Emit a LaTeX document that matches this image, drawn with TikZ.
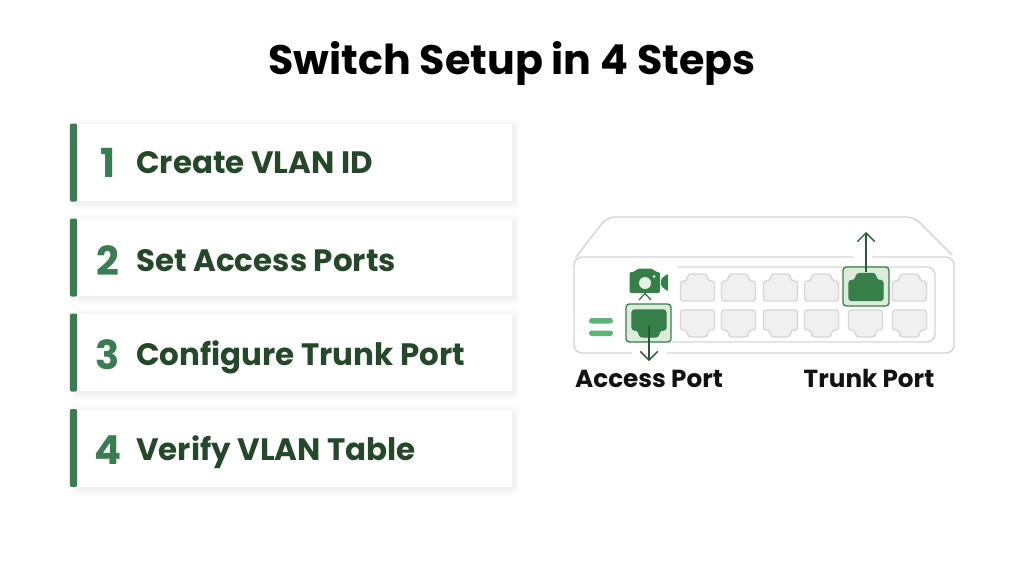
\documentclass[tikz,border=0pt]{standalone}
\usepackage{fontspec}
\setmainfont{Poppins}
\usepackage{xcolor}
\usetikzlibrary{arrows.meta}

\definecolor{darkgreen}{HTML}{26482A}
\definecolor{midgreen}{HTML}{3A7D52}
\definecolor{portgreen}{HTML}{367F48}
\definecolor{palegreen}{HTML}{DCEBDC}
\definecolor{lightgreen}{HTML}{5BB574}
\definecolor{switchgrey}{HTML}{D6D6D6}
\definecolor{portgrey}{HTML}{F0F0F0}

\begin{document}
\begin{tikzpicture}[x=0.75pt,y=-0.75pt]

    \tikzstyle{stepcard}=[fill=white,minimum width=435*0.75pt,minimum height=77*0.75pt,inner sep=0pt]
    \tikzstyle{stepbar}=[fill=midgreen,rounded corners=1.5pt,minimum width=5.5pt,minimum height=78*0.75pt,inner sep=0pt]
    \tikzstyle{stepnum}=[text=midgreen,font=\fontsize{30}{32}\selectfont\bfseries,anchor=base,inner sep=0pt]
    \tikzstyle{steptext}=[text=darkgreen,font=\fontsize{23.2}{26}\selectfont\bfseries,anchor=base west,inner sep=0pt]
    \tikzstyle{portlabel}=[text=black!93,font=\fontsize{18.5}{21}\selectfont\bfseries,anchor=base,inner sep=0pt]
    \tikzstyle{greyport}=[draw=switchgrey,fill=portgrey,line width=1pt,rounded corners=2pt]
    \tikzstyle{greenport}=[draw=portgreen,fill=portgreen,line width=1pt,rounded corners=2pt]
    \tikzstyle{portbox}=[draw=portgreen,fill=palegreen,line width=1pt,rounded corners=2.5pt,inner sep=0pt]
    \tikzstyle{outline}=[draw=switchgrey,line width=1.1pt,rounded corners=6pt]
    \tikzstyle{linkarrow}=[draw=darkgreen!70!portgreen,line width=1pt,-{Straight Barb[length=6.5pt,width=13pt]}]
    \tikzstyle{softshadow}=[fill=black,opacity=0.008,rounded corners=4pt]

    %% one port, notch on top, centred on the origin
    \newcommand{\portpath}{(-17,13.5) -- (-17,-6.5) -- (-11,-6.5) -- (-9,-13.5) -- (9,-13.5) -- (11,-6.5) -- (17,-6.5) -- (17,13.5) -- cycle}

    \useasboundingbox (0,0) rectangle (1024,572);
    \fill[white] (0,0) rectangle (1024,572);

    \node[text=black,font=\fontsize{30.9}{34}\selectfont\bfseries] (title) at (512,63) {Switch Setup in 4 Steps};

    %% Draw step cards
    \foreach \n/\ypos/\base/\txt in {1/162.5/173/Create VLAN ID,2/257.5/271/Set Access Ports,3/352.5/365/Configure Trunk Port,4/448/460/Verify VLAN Table}
    {
        \foreach \grow in {1,2,...,7}
            \fill[softshadow] (77-\grow,\ypos-38.5-\grow+2) rectangle (512+\grow+1,\ypos+38.5+\grow+2);
        \node[stepcard] (card\n) at (294.5,\ypos) {};
        \node[stepbar] (bar\n) at (73.5,\ypos) {};
        \node[stepnum] (num\n) at (108,\base+4.5) {\n};
        \node[steptext] (text\n) at (136,\base) {\txt};
    }

    %% Draw switch outline
    \draw[outline] (853,257) -- (574,257) -- (574,353) -- (632,353);
    \draw[outline] (667,353) -- (954,353) -- (954,257) -- (872,257);
    \draw[outline] (576,257) -- (607,217) -- (914,217) -- (952,255);
    \draw[outline] (677,267) -- (935,267) -- (935,342) -- (672,342);

    %% Draw grey ports
    \foreach \xpos in {697.5,738.5,780.5,821.5,909.5}
        \draw[greyport,shift={(\xpos,287.5)}] \portpath;
    \foreach \xpos in {697.5,738.5,780.5,821.5,865.5,909.5}
        \draw[greyport,shift={(\xpos,323.5)},yscale=-1] \portpath;

    %% Draw access and trunk ports
    \node[portbox,minimum width=45*0.75pt,minimum height=38*0.75pt] (accessbox) at (648.5,323) {};
    \node[portbox,minimum width=46*0.75pt,minimum height=39*0.75pt] (trunkbox) at (866,286.5) {};
    \draw[greenport,shift={(649,323.5)},yscale=-1] \portpath;
    \draw[greenport,shift={(866,287)}] \portpath;
    \coordinate (accessend) at (649,361);
    \coordinate (trunkend) at (866,232);
    \coordinate (accessport) at (649,326);
    \coordinate (trunkport) at (866,272);
    \draw[linkarrow] (accessport) -- (accessend);
    \draw[linkarrow] (trunkport) -- (trunkend);

    %% Draw camera
    \fill[portgreen,rounded corners=1.5pt] (629.5,272) -- (635,272) -- (637,268.5) -- (653,268.5) -- (655,272) -- (660,272) -- (660,293) -- (629.5,293) -- cycle;
    \fill[portgreen,rounded corners=1pt] (661,279) -- (668,273.5) -- (668,291.5) -- (661,286) -- cycle;
    \fill[palegreen!70!white] (645,283) circle (6);
    \fill[palegreen] (654,276.5) circle (1.5);
    \draw[portgreen,line width=1pt] (639,300) -- (645,293.5) -- (651,300);

    %% Draw equals sign
    \fill[lightgreen,rounded corners=2pt] (589,318) rectangle (613,323.5);
    \fill[lightgreen,rounded corners=2pt] (589,330.5) rectangle (613,336);

    \node[portlabel] (accesslabel) at (649,387) {Access Port};
    \node[portlabel] (trunklabel) at (869,387) {Trunk Port};

\end{tikzpicture}
\end{document}
